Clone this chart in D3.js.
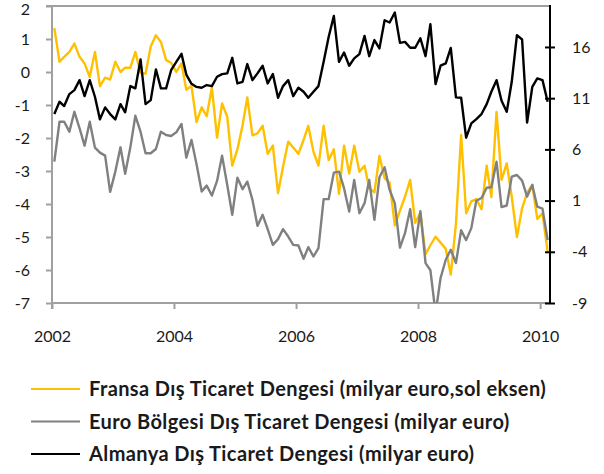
<!DOCTYPE html>
<html>
<head>
<meta charset="utf-8">
<script src="https://cdn.jsdelivr.net/npm/d3@7"></script>
<style>
  body { margin: 0; background: #fff; }
  svg { display: block; }
  text { font-family: Lato, "Open Sans", sans-serif; fill: #1a1a1a; }
</style>
</head>
<body>
<svg id="chart" width="604" height="474"></svg>
<script>
// Monthly trade balances, Jan 2002 - Feb 2010
const franceBalance = [
  1.33, 0.31, 0.46, 0.61, 0.86, 0.46, 0.26, -0.15, 0.61, -0.43, -0.17, -0.23,
  0.31, 0.00, 0.13, 0.13, 0.61, -0.03, -0.05, 0.77, 1.11, 0.91, 0.36, 0.28,
  0.00, 0.26, -0.54, -0.42, -1.52, -1.07, -1.34, -0.47, -1.99, -0.95, -1.36, -2.84,
  -2.34, -1.61, -0.77, -1.92, -1.86, -1.63, -2.48, -2.23, -3.67, -2.87, -2.11, -2.29,
  -2.48, -2.06, -1.63, -2.41, -2.84, -1.63, -2.67, -2.34, -3.69, -2.23, -3.08, -2.23,
  -3.02, -2.84, -3.52, -3.65, -2.54, -3.22, -3.35, -4.65, -4.20, -3.78, -3.27, -4.57,
  -4.27, -5.52, -5.25, -4.99, -5.17, -5.36, -6.14, -4.60, -1.91, -4.28, -3.92, -3.85,
  -4.16, -2.84, -3.79, -1.21, -3.27, -2.77, -3.78, -5.00, -4.13, -3.66, -3.42, -4.45,
  -4.28, -5.46
];
const euroAreaBalance = [
  4.80, 8.70, 8.70, 7.73, 9.67, 8.06, 6.36, 8.70, 6.17, 5.68, 5.39, 1.85,
  3.83, 6.20, 3.62, 6.20, 9.28, 7.73, 5.62, 5.62, 6.04, 7.73, 7.40, 7.31,
  7.67, 8.48, 5.19, 6.92, 4.58, 1.88, 2.46, 1.49, 2.92, 5.39, 2.53, -0.39,
  3.24, 2.11, 2.85, 1.07, -1.47, -0.39, -1.79, -3.32, -2.76, -1.79, -2.51, -3.32,
  -3.39, -4.68, -3.55, -4.46, -3.64, 1.14, 1.14, 3.73, 3.83, 2.21, -0.07, 3.02,
  -0.23, 0.75, 3.02, -0.88, 3.28, 4.26, 2.04, 0.75, -3.60, -2.18, 0.16, -3.55,
  -0.03, -5.10, -5.80, -10.0, -6.56, -4.78, -3.80, -5.10, -1.90, -2.86, -1.69, 0.98,
  1.25, 2.25, 2.30, 4.80, 0.36, 0.52, 3.34, 3.50, 2.95, 1.39, 2.53, 0.40,
  0.22, -2.86
];
const germanyBalance = [
  9.45, 10.65, 10.23, 11.40, 11.79, 12.76, 11.20, 12.76, 11.14, 8.93, 10.10, 9.45,
  8.93, 10.42, 9.62, 12.18, 11.96, 14.78, 10.42, 10.81, 13.81, 11.96, 11.96, 13.73,
  14.55, 15.33, 13.30, 12.40, 12.10, 12.02, 12.28, 12.18, 13.09, 13.35, 13.42, 14.94,
  12.44, 12.60, 14.33, 12.76, 13.42, 14.17, 12.44, 13.35, 11.04, 12.18, 12.76, 11.20,
  12.02, 11.63, 11.04, 11.63, 12.18, 14.55, 16.98, 19.03, 14.55, 15.46, 14.17, 14.88,
  15.30, 17.08, 15.10, 16.67, 15.86, 18.61, 18.39, 19.36, 16.40, 16.50, 15.92, 15.92,
  16.85, 15.10, 18.22, 12.37, 14.17, 14.40, 15.90, 11.08, 11.04, 7.14, 8.54, 8.96,
  9.45, 10.42, 11.63, 12.76, 10.75, 9.67, 12.60, 17.15, 16.73, 8.61, 12.11, 12.93,
  12.76, 10.65
];

const leftTicks = [2, 1, 0, -1, -2, -3, -4, -5, -6, -7];
const rightTicks = [-9, -4, 1, 6, 11, 16];
const yearTicks = [2002, 2004, 2006, 2008, 2010];
const seriesNames = [
  "Fransa Dış Ticaret Dengesi (milyar euro,sol eksen)",
  "Euro Bölgesi Dış Ticaret Dengesi (milyar euro)",
  "Almanya Dış Ticaret Dengesi (milyar euro)"
];
const seriesColors = ["#FFC000", "#808080", "#000000"];

const months = d3.timeMonth.range(new Date(2002, 0, 1), new Date(2010, 2, 1));

const plot = { left: 52, right: 550, top: 6, bottom: 303 };
const svg = d3.select("#chart");

const x = d3.scaleTime()
  .domain([new Date(2002, 0, 1), new Date(2010, 2, 1)])
  .range([plot.left, plot.right]);
const yLeft = d3.scaleLinear().domain([-7, 2]).range([plot.bottom, plot.top]);
const yRight = d3.scaleLinear().domain([-9, 20]).range([plot.bottom, plot.top]);

const mid = d => d3.timeDay.offset(d, 14);

svg.append("defs").append("clipPath").attr("id", "plotClip")
  .append("rect")
  .attr("x", plot.left).attr("y", plot.top)
  .attr("width", plot.right - plot.left).attr("height", plot.bottom - plot.top);

// top border of the plot area
svg.append("line")
  .attr("x1", plot.left - 6).attr("x2", plot.right)
  .attr("y1", plot.top).attr("y2", plot.top)
  .attr("stroke", "#a0a0a0").attr("stroke-width", 2);

// left (primary) axis
const gLeft = svg.append("g")
  .attr("transform", `translate(${plot.left},0)`)
  .call(d3.axisLeft(yLeft).tickValues(leftTicks).tickSize(6).tickPadding(16)
    .tickFormat(d => String(d)));
gLeft.select(".domain").attr("stroke", "#a0a0a0").attr("stroke-width", 2)
  .attr("d", `M0,${plot.top}V${plot.bottom + 6}`);
gLeft.selectAll(".tick line").attr("stroke", "#a0a0a0").attr("stroke-width", 2);
gLeft.selectAll(".tick text").attr("font-size", 16).attr("fill", "#1a1a1a")
  .style("font-family", "Lato, sans-serif");
// keep the top label inside the canvas
gLeft.selectAll(".tick text").filter(d => d === 2).attr("dy", "0.5em");

// bottom (date) axis
const gBottom = svg.append("g")
  .attr("transform", `translate(0,${plot.bottom})`)
  .call(d3.axisBottom(x)
    .tickValues(yearTicks.map(yr => new Date(yr, 0, 1)))
    .tickSize(6).tickPadding(22)
    .tickFormat(d => String(d.getFullYear())));
gBottom.select(".domain").attr("stroke", "#a0a0a0").attr("stroke-width", 2)
  .attr("d", `M${plot.left},0H${plot.right}`);
gBottom.selectAll(".tick line").attr("stroke", "#a0a0a0").attr("stroke-width", 2);
gBottom.selectAll(".tick text").attr("font-size", 16).attr("fill", "#1a1a1a")
  .style("font-family", "Lato, sans-serif");

// series lines
const series = [
  { values: franceBalance, y: yLeft },
  { values: euroAreaBalance, y: yRight },
  { values: germanyBalance, y: yRight }
];
const lines = svg.append("g").attr("clip-path", "url(#plotClip)");
series.forEach((s, k) => {
  const line = d3.line()
    .x((d, i) => x(mid(months[i])))
    .y(d => s.y(d));
  lines.append("path")
    .datum(s.values)
    .attr("d", line)
    .attr("fill", "none")
    .attr("stroke", seriesColors[k])
    .attr("stroke-width", 2.4)
    .attr("stroke-linejoin", "round");
});

// right (secondary) axis, drawn above the lines
const gRight = svg.append("g")
  .attr("transform", `translate(${plot.right},0)`)
  .call(d3.axisRight(yRight).tickValues(rightTicks).tickSize(5).tickPadding(17)
    .tickFormat(d => String(d)));
gRight.select(".domain").attr("stroke", "#000").attr("stroke-width", 2)
  .attr("d", `M0,${plot.top - 1}V${plot.bottom + 1}`);
gRight.selectAll(".tick line").attr("stroke", "#000").attr("stroke-width", 2)
  .attr("x1", -5).attr("x2", 5);
gRight.selectAll(".tick text").attr("font-size", 16).attr("fill", "#1a1a1a")
  .style("font-family", "Lato, sans-serif");

// legend
const legend = svg.append("g");
seriesNames.forEach((name, k) => {
  const cy = 389 + k * 32.5;
  legend.append("line")
    .attr("x1", 31).attr("x2", 80).attr("y1", cy).attr("y2", cy)
    .attr("stroke", seriesColors[k]).attr("stroke-width", 2);
  legend.append("text")
    .attr("x", 89).attr("y", cy).attr("dy", "0.35em")
    .attr("font-size", 20).attr("font-weight", "bold")
    .attr("letter-spacing", 0.4)
    .text(name);
});
</script>
</body>
</html>
